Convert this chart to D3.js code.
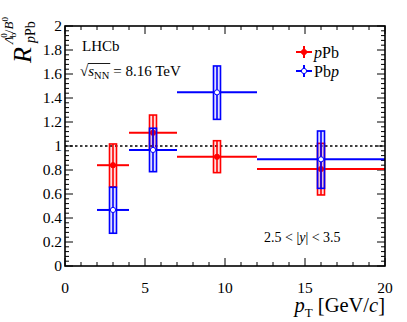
<!DOCTYPE html>
<html><head><meta charset="utf-8">
<script src="https://cdn.jsdelivr.net/npm/d3@7"></script>
<style>body{margin:0;background:#fff}svg{display:block}text{font-family:"Liberation Serif","DejaVu Serif",serif;fill:#000}</style>
</head><body>
<script>
// ---- data ----
const binLo = [2, 4, 7, 12];
const binHi = [4, 7, 12, 20];
const binCenter = [3, 5.5, 9.5, 16];
const pPbVal = [0.84, 1.11, 0.91, 0.808];
const pPbHi  = [1.017, 1.258, 1.044, 1.022];
const pPbLo  = [0.66, 0.965, 0.778, 0.592];
const Pbpval = [0.467, 0.967, 1.447, 0.889];
const PbpHi  = [0.656, 1.148, 1.667, 1.125];
const PbpLo  = [0.273, 0.786, 1.222, 0.647];
const xTicks = [0, 5, 10, 15, 20];
const yTicks = [0, 0.2, 0.4, 0.6, 0.8, 1, 1.2, 1.4, 1.6, 1.8, 2];

const W = 407, H = 322;
const m = {l: 65, r: 22, t: 26, b: 56};
const svg = d3.select("body").append("svg").attr("width", W).attr("height", H);
const x = d3.scaleLinear().domain([0, 20]).range([m.l, W - m.r]);
const y = d3.scaleLinear().domain([0, 2]).range([H - m.b, m.t]);
const x0 = x(0), x1 = x(20), y0 = y(0), y1 = y(2);

// ticks
const g = svg.append("g").attr("stroke", "#000").attr("stroke-width", 1);
const xMinor = d3.range(0, 20.01, 1);
xMinor.forEach(v => {
  const L = (v % 5 === 0) ? 8 : 4;
  g.append("line").attr("x1", x(v)).attr("x2", x(v)).attr("y1", y0).attr("y2", y0 - L);
  g.append("line").attr("x1", x(v)).attr("x2", x(v)).attr("y1", y1).attr("y2", y1 + L);
});
const yMinor = d3.range(0, 2.0001, 0.04);
yMinor.forEach((v, i) => {
  const L = (i % 5 === 0) ? 8 : 4;
  g.append("line").attr("y1", y(v)).attr("y2", y(v)).attr("x1", x0).attr("x2", x0 + L);
  g.append("line").attr("y1", y(v)).attr("y2", y(v)).attr("x1", x1).attr("x2", x1 - L);
});

// tick labels
svg.append("g").selectAll("text").data(xTicks).join("text")
  .attr("x", d => x(d)).attr("y", y0 + 27).attr("text-anchor", "middle")
  .attr("font-size", 15.5).text(d => d);
svg.append("g").selectAll("text").data(yTicks).join("text")
  .attr("x", x0 - 3).attr("y", d => y(d) + 5).attr("text-anchor", "end")
  .attr("font-size", 15.5).text(d => d3.format("")(+d.toFixed(1)));

// dotted line at 1
svg.append("line").attr("x1", x0).attr("x2", x1).attr("y1", y(1)).attr("y2", y(1))
  .attr("stroke", "#000").attr("stroke-width", 1.3).attr("stroke-dasharray", "2.5,2.5");

function series(vals, hi, lo, color, open) {
  const s = svg.append("g");
  const bw = 3.5;
  vals.forEach((v, i) => {
    const cx = x(binCenter[i]);
    s.append("rect").attr("x", cx - bw).attr("width", 2 * bw)
      .attr("y", y(hi[i])).attr("height", y(lo[i]) - y(hi[i]))
      .attr("fill", color).attr("fill-opacity", 0.12)
      .attr("stroke", color).attr("stroke-width", 1.6);
    s.append("line").attr("x1", x(binLo[i])).attr("x2", x(binHi[i]))
      .attr("y1", y(v)).attr("y2", y(v)).attr("stroke", color).attr("stroke-width", 2);
    s.append("line").attr("x1", cx).attr("x2", cx)
      .attr("y1", y(hi[i])).attr("y2", y(lo[i])).attr("stroke", color).attr("stroke-width", 1.6);
    s.append("circle").attr("cx", cx).attr("cy", y(v)).attr("r", 2.6)
      .attr("fill", open ? "#fff" : color).attr("stroke", color).attr("stroke-width", 1);
  });
}
series(pPbVal, pPbHi, pPbLo, "#ff0000", false);
series(Pbpval, PbpHi, PbpLo, "#0000ff", true);

// frame
svg.append("rect").attr("x", x0).attr("y", y1).attr("width", x1 - x0).attr("height", y0 - y1)
  .attr("fill", "none").attr("stroke", "#000").attr("stroke-width", 1.6);

// legend
function legEntry(cy, color, open, parts) {
  const cx = 304;
  svg.append("line").attr("x1", cx - 8).attr("x2", cx + 8).attr("y1", cy).attr("y2", cy)
    .attr("stroke", color).attr("stroke-width", 2);
  svg.append("line").attr("x1", cx).attr("x2", cx).attr("y1", cy - 6).attr("y2", cy + 6)
    .attr("stroke", color).attr("stroke-width", 2);
  svg.append("circle").attr("cx", cx).attr("cy", cy).attr("r", 2.6)
    .attr("fill", open ? "#fff" : color).attr("stroke", color);
  const t = svg.append("text").attr("x", cx + 10).attr("y", cy + 6).attr("font-size", 16);
  parts.forEach(p => t.append("tspan").attr("font-style", p[1] ? "italic" : null).text(p[0]));
}
legEntry(52, "#ff0000", false, [["p", true], ["Pb", false]]);
legEntry(71, "#0000ff", true, [["Pb", false], ["p", true]]);

// LHCb
svg.append("text").attr("x", 82).attr("y", 51).attr("font-size", 15).text("LHCb");
// sqrt s_NN
const sq = svg.append("text").attr("x", 80).attr("y", 76).attr("font-size", 15).text("√");
const sqW = sq.node().getComputedTextLength();
const sT = svg.append("text").attr("x", 80 + sqW).attr("y", 76).attr("font-size", 15)
  .attr("font-style", "italic").text("s");
const sW = sT.node().getComputedTextLength();
const nn = svg.append("text").attr("x", 80 + sqW + sW).attr("y", 79).attr("font-size", 10.5).text("NN");
const nnW = nn.node().getComputedTextLength();
svg.append("line").attr("x1", 80 + sqW - 0.5).attr("x2", 80 + sqW + sW + nnW + 1)
  .attr("y1", 63.5).attr("y2", 63.5).attr("stroke", "#000").attr("stroke-width", 0.9);
svg.append("text").attr("x", 80 + sqW + sW + nnW + 4).attr("y", 76).attr("font-size", 15)
  .text("= 8.16 TeV");

// rapidity range
const yr = svg.append("text").attr("x", 264).attr("y", 242).attr("font-size", 14);
yr.append("tspan").text("2.5 < |");
yr.append("tspan").attr("font-style", "italic").text("y");
yr.append("tspan").text("| < 3.5");

// x title
const xt = svg.append("text").attr("x", 385).attr("y", 312).attr("text-anchor", "end").attr("font-size", 20.5);
xt.append("tspan").attr("font-style", "italic").text("p");
xt.append("tspan").attr("font-size", 13).attr("dy", 5).text("T");
xt.append("tspan").attr("dy", -5).text(" [GeV/");
xt.append("tspan").attr("font-style", "italic").text("c");
xt.append("tspan").text("]");

// y title (rotated)
const yt = svg.append("g").attr("transform", "translate(31,63) rotate(-90)");
yt.append("text").attr("x", 0).attr("y", 0).attr("font-size", 26).attr("font-style", "italic").text("R");
const sup = yt.append("text").attr("x", 19).attr("y", -18).attr("font-size", 13);
sup.append("tspan").attr("font-style", "italic").text("Λ");
sup.append("tspan").attr("font-size", 9).attr("dy", 3).attr("dx", -1).text("b");
sup.append("tspan").attr("font-size", 9).attr("dy", -9).attr("dx", -5).text("0");
sup.append("tspan").attr("dy", 6).text("/");
sup.append("tspan").attr("font-style", "italic").text("B");
sup.append("tspan").attr("font-size", 9).attr("dy", -5).text("0");
const sub = yt.append("text").attr("x", 20).attr("y", 4).attr("font-size", 14);
sub.append("tspan").attr("font-style", "italic").text("p");
sub.append("tspan").text("Pb");
</script>
</body></html>
